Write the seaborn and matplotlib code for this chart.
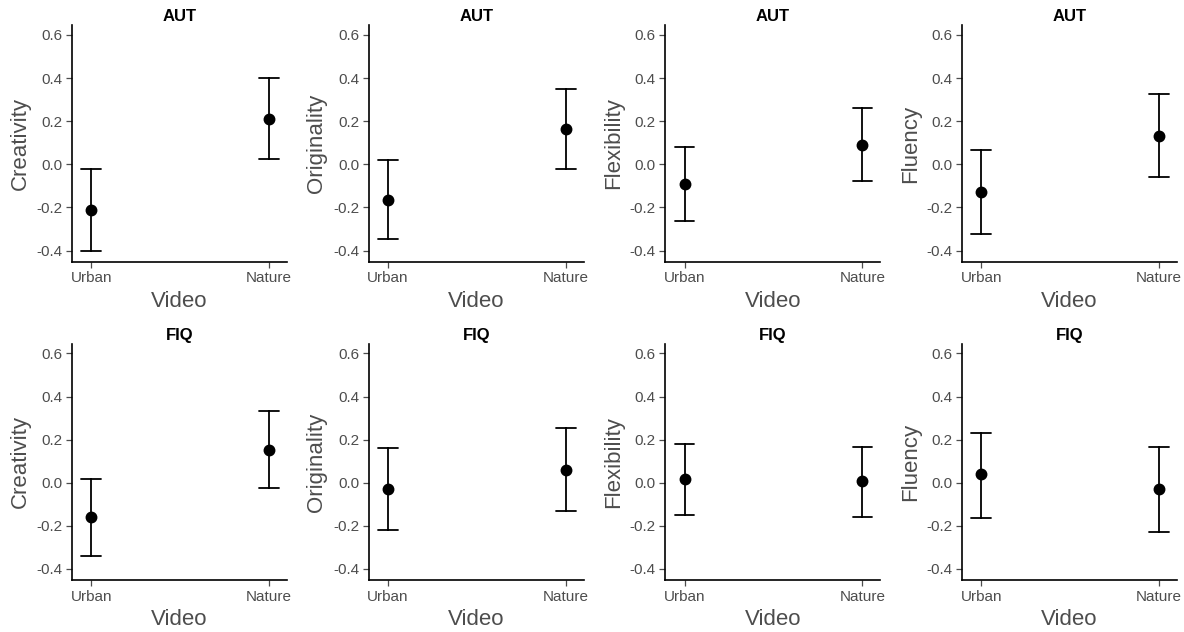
import pandas as pd
import seaborn as sns
import matplotlib.pyplot as plt

# data: mean with lower / upper CI bound
tests = ['AUT', 'FIQ']
measures = ['Creativity', 'Originality', 'Flexibility', 'Fluency']
videos = ['Urban', 'Nature']

mean_aut = [[-0.21, 0.211], [-0.166, 0.165], [-0.092, 0.091], [-0.128, 0.133]]
lo_aut = [[-0.40, 0.023], [-0.347, -0.02], [-0.264, -0.076], [-0.322, -0.061]]
hi_aut = [[-0.022, 0.40], [0.019, 0.35], [0.081, 0.261], [0.068, 0.328]]

mean_fiq = [[-0.161, 0.154], [-0.028, 0.059], [0.019, 0.006], [0.039, -0.030]]
lo_fiq = [[-0.342, -0.026], [-0.22, -0.129], [-0.148, -0.158], [-0.163, -0.227]]
hi_fiq = [[0.017, 0.335], [0.161, 0.252], [0.179, 0.168], [0.233, 0.168]]

stats = {'AUT': (mean_aut, lo_aut, hi_aut), 'FIQ': (mean_fiq, lo_fiq, hi_fiq)}

sns.set_style('ticks')
plt.rcParams['font.family'] = ['Liberation Sans', 'DejaVu Sans']

fig, axes = plt.subplots(2, 4, figsize=(11.84, 6.32), dpi=100)
fig.subplots_adjust(left=0.061, right=0.994, top=0.960, bottom=0.082,
                    wspace=0.381, hspace=0.347)

grey = '#4D4D4D'
for r, test in enumerate(tests):
    means, los, his = stats[test]
    for c, meas in enumerate(measures):
        ax = axes[r, c]
        rows = []
        for k, v in enumerate(videos):
            # three values per group: median = mean, full range = CI
            for val in (los[c][k], means[c][k], his[c][k]):
                rows.append({'Video': v, 'val': val})
        df = pd.DataFrame(rows)
        sns.pointplot(data=df, x='Video', y='val', order=videos,
                      estimator='median', errorbar=('pi', 100),
                      capsize=0.11, color='black', linestyle='none',
                      markersize=6.5, err_kws={'linewidth': 1.3}, ax=ax)
        ax.set_xlim(-0.107, 1.1)
        ax.set_ylim(-0.452, 0.645)
        ax.set_yticks([-0.4, -0.2, 0.0, 0.2, 0.4, 0.6])
        ax.set_yticklabels(['-0.4', '-0.2', '0.0', '0.2', '0.4', '0.6'])
        ax.set_title(test, fontsize=12, fontweight='bold', color='black', pad=3)
        ax.set_xlabel('Video', fontsize=16, color=grey, labelpad=4)
        ax.set_ylabel(meas, fontsize=16, color=grey, labelpad=4)
        ax.tick_params(axis='both', labelsize=11, colors=grey, length=4,
                       width=0.9, pad=3)
        for s in ['left', 'bottom']:
            ax.spines[s].set_linewidth(1.2)
            ax.spines[s].set_color('black')
        sns.despine(ax=ax)

fig.savefig('out.png', dpi=100)
